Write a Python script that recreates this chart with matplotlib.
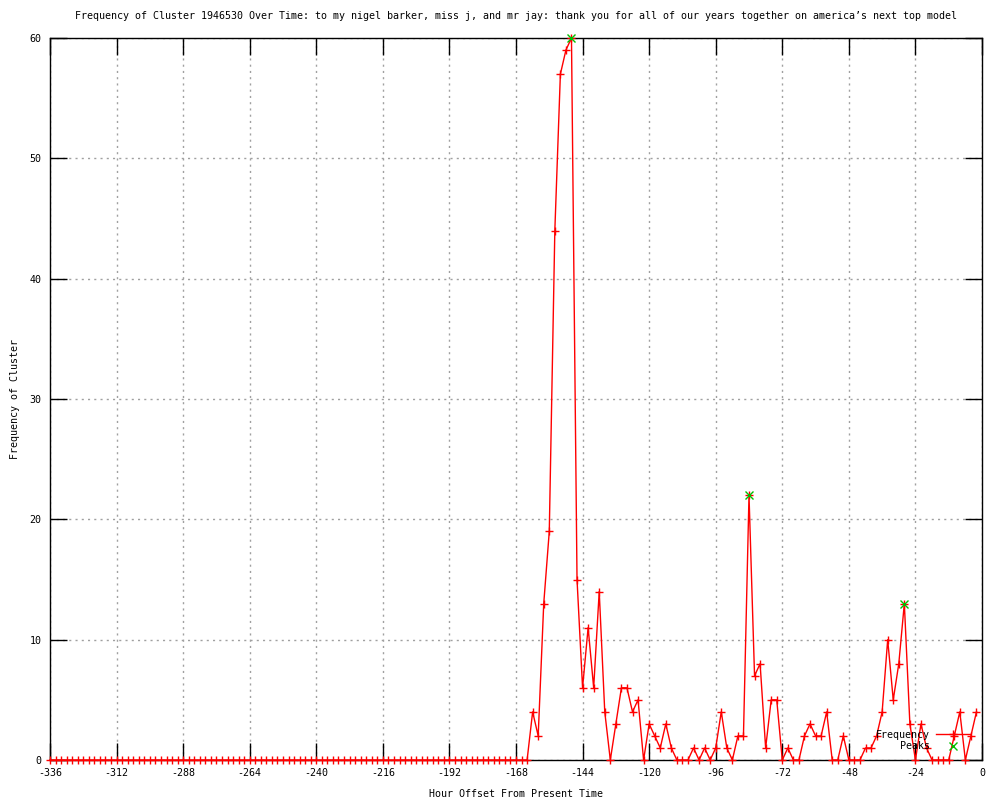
import matplotlib
matplotlib.use('Agg')
import matplotlib.pyplot as plt
import numpy as np

# hourly bins (2h wide), oldest first
hours = np.arange(-336, 0, 2)
freq = [0] * 87 + [
    4, 2, 13, 19, 44, 57, 59, 60, 15, 6,      # -162 .. -144
    11, 6, 14, 4, 0, 3, 6, 6, 4, 5,           # -142 .. -124
    0, 3, 2, 1, 3, 1, 0, 0, 0, 1,             # -122 .. -104
    0, 1, 0, 1, 4, 1, 0, 2, 2, 22,            # -102 .. -84
    7, 8, 1, 5, 5, 0, 1, 0, 0, 2,             # -82 .. -64
    3, 2, 2, 4, 0, 0, 2, 0, 0, 0,             # -62 .. -44
    1, 1, 2, 4, 10, 5, 8, 13, 3, 0,           # -42 .. -24
    3, 1, 0, 0, 0, 0, 2, 4, 0, 2, 4,          # -22 .. -2
]
peak_hours = [-148, -84, -28]
peak_vals = [60, 22, 13]

title = ("Frequency of Cluster 1946530 Over Time: to my nigel barker, miss j, "
         "and mr jay: thank you for all of our years together on america\u2019s next top model")

plt.rcParams['font.family'] = ['DejaVu Sans Mono']
plt.rcParams['font.size'] = 7.2
plt.rcParams['axes.unicode_minus'] = False

fig = plt.figure(figsize=(10, 8), dpi=100)
ax = fig.add_axes([0.05, 0.05, 0.932, 0.9025])

ax.plot(hours, freq, color='red', lw=1, marker='+', ms=5.5, mew=1,
        clip_on=False, label='Frequency', zorder=3)
ax.plot(peak_hours, peak_vals, ls='none', color='#00c000', marker='x', ms=5.5,
        mew=1, clip_on=False, label='    Peaks', zorder=4)

ax.set_xlim(-336, 0)
ax.set_ylim(0, 60)
ax.set_xticks(np.arange(-336, 1, 24))
ax.set_yticks(np.arange(0, 61, 10))
ax.tick_params(direction='in', length=12, width=1, top=True, right=True,
               colors='black', labelsize=7.2, pad=6)
ax.grid(True, color='#a0a0a0', ls=(0, (1.5, 3)), lw=1)
ax.set_axisbelow(True)
for s in ax.spines.values():
    s.set_linewidth(1)

ax.set_title(title, fontsize=7.2, pad=14)
ax.set_xlabel('Hour Offset From Present Time', labelpad=8)
ax.set_ylabel('Frequency of Cluster', labelpad=7)

ax.legend(loc='lower right', bbox_to_anchor=(0.9925, 0.005), frameon=False,
          markerfirst=False, numpoints=1, handlelength=3.4, handletextpad=0.6,
          labelspacing=0.15, borderpad=0, fontsize=7.2)

fig.savefig('out.png', dpi=100)
